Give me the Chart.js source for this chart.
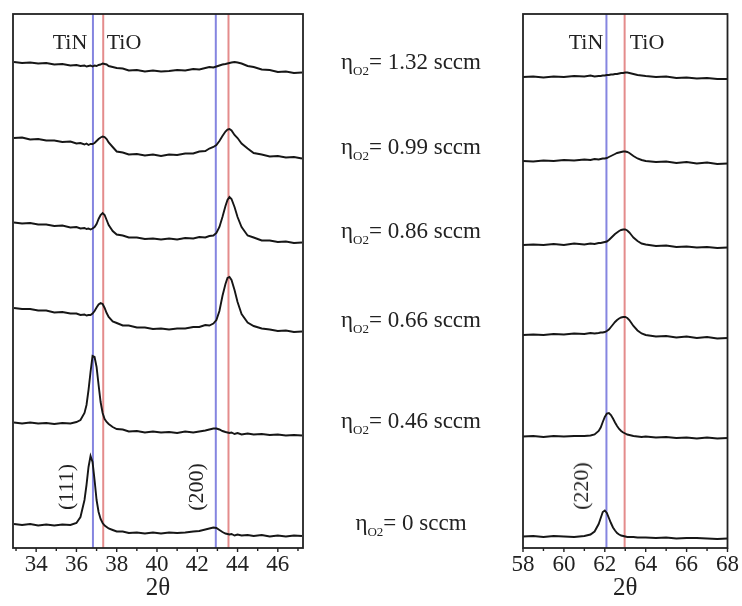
<!DOCTYPE html>
<html>
<head>
<meta charset="utf-8">
<script src="https://cdn.jsdelivr.net/npm/chart.js@4.4.0/dist/chart.umd.min.js"></script>
<style>
  body { margin: 0; background: #fff; width: 742px; height: 606px; position: relative; overflow: hidden;
         font-family: "Liberation Serif", "Times New Roman", serif; color: #222; }
  .panel { position: absolute; top: 0; height: 606px; }
  .lbl { position: absolute; font-size: 22px; line-height: 22px; white-space: nowrap; transform: translate(-50%, -50%); }
  .rot { transform: translate(-50%, -50%) rotate(-90deg); }
  .eta { position: absolute; left: 311px; width: 200px; text-align: center; font-size: 23px; line-height: 22px; white-space: nowrap; }
  .eta sub { font-size: 13px; line-height: 0; vertical-align: -6px; }
</style>
</head>
<body>
<div class="panel" style="left:0;width:330px"><canvas id="left"></canvas></div>
<div class="panel" style="left:500px;width:242px"><canvas id="right"></canvas></div>

<div class="lbl" style="left:70px;top:42px">TiN</div>
<div class="lbl" style="left:124px;top:42px">TiO</div>
<div class="lbl" style="left:586px;top:42px">TiN</div>
<div class="lbl" style="left:647px;top:42px">TiO</div>
<div class="lbl rot" style="left:66px;top:487px">(111)</div>
<div class="lbl rot" style="left:196px;top:487px">(200)</div>
<div class="lbl rot" style="left:581px;top:486px">(220)</div>
<div id="flows"></div>

<script>
// O2 flow for each scan, top to bottom
var flows = ['1.32', '0.99', '0.86', '0.66', '0.46', '0'];
var flowTops = [51, 136, 220, 309, 410, 512];

// left panel: (111) and (200) region
var leftTwoTheta = [32.9, 33.3, 33.7, 34.1, 34.5, 34.9, 35.3, 35.7, 36.0, 36.2, 36.4, 36.5, 36.6, 36.7, 36.8, 36.9, 37.0, 37.1, 37.2, 37.3,
  37.4, 37.5, 37.6, 37.8, 38.0, 38.3, 38.6, 39.0, 39.4, 39.8, 40.2, 40.6, 41.0, 41.4, 41.8, 42.1, 42.4, 42.6, 42.8, 42.95,
  43.1, 43.25, 43.4, 43.5, 43.6, 43.7, 43.85, 44.0, 44.2, 44.5, 44.8, 45.2, 45.6, 46.0, 46.4, 46.8, 47.2];
var left132 = [486, 485, 485.5, 484.5, 485, 483.5, 484, 482.5, 483, 482, 482.5, 481.5, 482, 482.5, 481.5, 482.5, 482, 483, 483.5, 484.5,
  484, 483.5, 482, 481, 480, 479.5, 477.5, 478, 476.5, 477.5, 476.5, 477, 478, 477.5, 479, 478.5, 480, 481, 480.5, 481.5,
  482.5, 483.5, 484, 484.5, 485, 485.5, 486, 485.5, 484.5, 482, 481, 478.5, 478, 476, 476.5, 475, 475.5];
var left099 = [410, 410.5, 408.5, 409, 407.5, 407.5, 406, 406.5, 404.5, 405, 403.5, 404.5, 403, 404, 404, 405, 407, 409, 410.5, 411.5,
  411, 409, 405.5, 401, 396.5, 395.5, 393.5, 394, 392.5, 393.5, 392, 393.5, 393, 394.5, 394.5, 396.5, 397, 399.5, 401, 403,
  407, 412, 416.5, 418.5, 419, 417.5, 413, 410, 404.5, 399.5, 395, 393.5, 391.5, 392, 390.5, 391, 389.5];
var left086 = [325.5, 324.5, 325, 323.5, 323.5, 322, 322.5, 320.5, 321, 319.5, 320, 319, 319.5, 318.5, 319.5, 321, 324, 329, 333, 335,
  333, 328, 323, 317, 313.5, 312.5, 310.5, 310.5, 309, 309.5, 308.5, 309.5, 308.5, 310, 309.5, 311, 310.5, 312, 312.5, 315,
  321, 331, 342, 348, 351, 349, 341, 331, 321, 312.5, 310.5, 307.5, 307.5, 306, 306.5, 305, 305.5];
var left066 = [240, 239, 239, 237.5, 237.5, 235.5, 236, 234.5, 234.5, 233, 233.5, 232.5, 233, 233, 234.5, 237, 240.5, 243.5, 245, 244,
  240, 235, 231, 226.5, 225, 222.5, 222.5, 220.5, 220.5, 219, 219.5, 218.5, 219.5, 219.5, 221, 221, 223, 222.5, 224.5, 228,
  237, 252, 264, 270, 271, 268, 258, 246, 234, 225.5, 222, 219.5, 218.5, 217, 217.5, 216, 216.5];
var left046 = [125.5, 124.5, 125.5, 124.5, 125, 124, 125, 124.5, 126, 128, 135, 143, 158, 176, 192, 191, 181, 163, 146, 135,
  129, 126, 124, 121, 119, 118.5, 116.5, 117, 115.5, 116.5, 115.5, 116, 115, 116.5, 115.5, 116.5, 117.5, 118.5, 119.5, 119.5,
  118.5, 117, 116, 115.5, 115, 115.5, 114, 115, 113.5, 114.5, 113.5, 114, 113, 113.5, 112.5, 113, 112.5];
var left000 = [24, 23, 24, 22.5, 23.5, 22.5, 23.5, 23, 25, 31, 48, 63, 81, 92, 86, 68, 48, 36, 29, 25,
  22.5, 21, 19.5, 18, 16.5, 16.5, 15, 15.5, 14.5, 15.5, 14.5, 15.5, 15, 15.5, 16.5, 17, 18.5, 19.5, 20.5, 20,
  18, 16, 14.5, 14, 13.5, 14, 12.5, 13.5, 12.5, 13, 12, 13, 11.5, 12.5, 11.5, 12.5, 12];

// right panel: (220) region
var rightTwoTheta = [58, 58.5, 59, 59.5, 60, 60.5, 61, 61.3, 61.5, 61.7, 61.8, 61.9, 62, 62.1, 62.2, 62.3, 62.4, 62.5, 62.6, 62.7,
  62.8, 62.9, 63, 63.1, 63.2, 63.3, 63.4, 63.6, 63.8, 64, 64.5, 65, 65.5, 66, 66.5, 67, 67.5, 68];
var right132 = [471, 471.5, 470.5, 471.5, 471, 472, 471.5, 472.5, 471.5, 472, 472, 472.5, 472.5, 473, 473, 473.5, 473.5, 474, 474, 474.5,
  475, 475, 475.5, 475.5, 475, 474.5, 474, 473, 472.5, 472, 471, 471.5, 470, 470.5, 469.5, 470, 469, 469];
var right099 = [387, 386.5, 387.5, 387, 388, 387.5, 388.5, 388, 389, 388.5, 389, 389.5, 389.5, 390, 391, 392, 393, 394, 395, 395.5,
  396, 396.5, 396.5, 396, 395, 393.5, 392, 389.5, 388, 387, 386, 386.5, 385, 386, 384.5, 385.5, 384, 384.5];
var right086 = [303, 303.5, 303, 304, 303, 304.5, 303.5, 304.5, 304, 305, 305, 305.5, 306, 306.5, 308, 310, 312, 314, 315.5, 317,
  318, 318.5, 318.5, 317.5, 315.5, 313, 310.5, 307, 304.5, 303.5, 302, 302.5, 301, 301.5, 300.5, 301, 300, 300.5];
var right066 = [213, 213.5, 213, 214, 213.5, 214.5, 214, 215, 214.5, 215, 215.5, 215.5, 216, 217, 218.5, 221, 223.5, 226, 228, 229.5,
  230.5, 231, 231, 230, 228, 225, 222, 217.5, 214.5, 213, 211.5, 212, 210.5, 211.5, 210, 211, 209.5, 210];
var right046 = [111.5, 112, 111, 112, 111.5, 112, 112, 112.5, 113.5, 117, 120.5, 126, 131, 134.5, 135, 133, 129.5, 125.5, 122, 119,
  117, 115.5, 114.5, 113.5, 113, 112.5, 112, 111.5, 111, 111.5, 110.5, 111, 110, 110.5, 109.5, 110.5, 109.5, 110];
var right000 = [11.5, 12, 11, 12, 11.5, 11, 12, 13.5, 16.5, 24, 30, 36, 37.5, 35, 30, 25, 20.5, 17.5, 15, 13.5,
  12.5, 12, 11.5, 11, 11, 11, 11, 10.5, 10.5, 10.5, 10, 10.5, 9.5, 10, 10, 9.5, 9, 9.5];

// reference peak positions (2theta)
var tinLeft = [36.82, 42.92];
var tioLeft = [37.33, 43.55];
var tinRight = [62.08];
var tioRight = [62.97];

var intensityRange = [0, 534];

Chart.defaults.font.family = 'Liberation Serif';
Chart.defaults.color = '#222';

var flowBox = document.getElementById('flows');
flows.forEach(function (f, i) {
  var d = document.createElement('div');
  d.className = 'eta';
  d.style.top = flowTops[i] + 'px';
  d.innerHTML = '\u03B7<sub>O2</sub>= ' + f + ' sccm';
  flowBox.appendChild(d);
});

// box round the plot area, small outward ticks on every degree
var framePlugin = {
  id: 'frame',
  afterDatasetsDraw: function (chart) {
    var ctx = chart.ctx, a = chart.chartArea, x = chart.scales.x;
    ctx.save();
    ctx.strokeStyle = '#222';
    ctx.lineWidth = 1.8;
    ctx.strokeRect(a.left, a.top, a.right - a.left, a.bottom - a.top);
    ctx.lineWidth = 1.4;
    ctx.beginPath();
    x.ticks.forEach(function (t) {
      var px = x.getPixelForValue(t.value);
      ctx.moveTo(px, a.bottom);
      ctx.lineTo(px, a.bottom + (t.value % 2 === 0 ? 4 : 3));
    });
    ctx.stroke();
    ctx.restore();
  }
};

function refLine(x, colour) {
  return {
    data: [{x: x, y: intensityRange[0]}, {x: x, y: intensityRange[1]}],
    borderColor: colour, borderWidth: 2, pointRadius: 0, order: 2
  };
}

function makePanel(id, twoTheta, scans, tin, tio, min, max, padLeft, padRight) {
  var datasets = scans.map(function (s) {
    return {
      data: twoTheta.map(function (x, i) { return {x: x, y: s[i]}; }),
      borderColor: '#161616', borderWidth: 1.9, pointRadius: 0, tension: 0, order: 1
    };
  });
  tin.forEach(function (x) { datasets.push(refLine(x, '#8585e0')); });
  tio.forEach(function (x) { datasets.push(refLine(x, '#e48c8c')); });

  return new Chart(document.getElementById(id), {
    type: 'line',
    data: {datasets: datasets},
    options: {
      responsive: true,
      maintainAspectRatio: false,
      animation: false,
      layout: {padding: {left: padLeft, right: padRight, top: 14, bottom: 0}},
      plugins: {legend: {display: false}, tooltip: {enabled: false}},
      scales: {
        x: {
          type: 'linear', min: min, max: max,
          grid: {display: false, drawTicks: false},
          border: {display: false},
          ticks: {
            stepSize: 1, autoSkip: false, includeBounds: false, maxRotation: 0, padding: 3,
            font: {size: 23},
            callback: function (v) { return v % 2 === 0 ? v : ''; }
          },
          title: {display: true, text: '2θ', font: {size: 25}, padding: {top: 0, bottom: 3}},
          afterFit: function (s) { s.height = 58; }
        },
        y: {display: false, min: intensityRange[0], max: intensityRange[1]}
      }
    },
    plugins: [framePlugin]
  });
}

makePanel('left', leftTwoTheta, [left132, left099, left086, left066, left046, left000],
  tinLeft, tioLeft, 32.85, 47.25, 13, 27);
makePanel('right', rightTwoTheta, [right132, right099, right086, right066, right046, right000],
  tinRight, tioRight, 58, 68, 23, 13);
</script>
</body>
</html>
